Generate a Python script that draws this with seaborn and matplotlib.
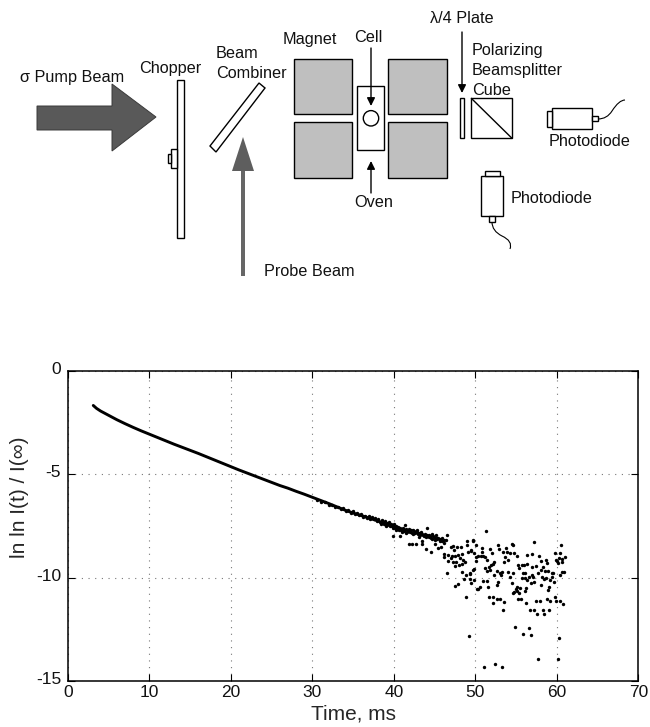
import matplotlib
matplotlib.use("Agg")
import matplotlib.pyplot as plt
from matplotlib.patches import Polygon, Rectangle, Circle
from matplotlib.path import Path
from matplotlib.patches import PathPatch
from matplotlib.transforms import ScaledTranslation
import pandas as pd
import seaborn as sns

# ---- chart data -------------------------------------------------------
curve_t = [3.1, 3.5, 4, 5, 6, 7, 8, 9, 10, 11, 12, 13, 14, 15, 16, 17, 18, 19, 20,
           21, 22, 23, 24, 25, 26, 27, 28, 29, 30, 31, 32, 33, 34, 35, 36, 37, 38, 39]
curve_v = [-1.68, -1.82, -1.95, -2.16, -2.37, -2.56, -2.74, -2.91, -3.07, -3.23, -3.39,
           -3.55, -3.70, -3.85, -4.00, -4.16, -4.32, -4.48, -4.64, -4.80, -4.95, -5.10,
           -5.25, -5.40, -5.55, -5.68, -5.83, -5.97, -6.12, -6.27, -6.42, -6.58,
           -6.74, -6.88, -7.00, -7.13, -7.26, -7.40]

band_a = [(30.6, -6.25), (31.0, -6.33), (31.5, -6.36), (32.0, -6.47), (32.4, -6.47), (32.8, -6.60),
          (33.2, -6.58), (33.5, -6.68), (33.8, -6.66), (34.1, -6.78), (34.4, -6.74), (34.7, -6.86),
          (35.0, -6.80), (35.2, -6.92), (35.5, -6.88), (35.7, -6.98), (36.0, -6.94), (36.2, -7.06),
          (36.5, -7.00), (36.7, -7.12), (36.9, -7.02), (37.1, -7.16), (37.3, -7.08), (37.5, -7.18),
          (37.7, -7.12), (37.9, -7.28), (38.1, -7.18), (38.3, -7.32), (38.5, -7.22), (38.7, -7.38),
          (38.9, -7.27), (39.1, -7.34), (39.2, -7.47), (39.4, -7.32), (39.6, -7.42), (39.8, -7.52),
          (39.9, -7.97), (40.0, -7.40)]

band_b = [(40.1, -7.62), (40.2, -7.50), (40.3, -7.70), (40.5, -7.56), (40.6, -7.72), (40.7, -7.97),
          (40.8, -7.62), (41.0, -7.80), (41.1, -7.58), (41.2, -7.70), (41.4, -7.48), (41.5, -7.84),
          (41.6, -7.72), (41.8, -8.40), (41.9, -7.66), (42.0, -7.78), (42.2, -8.39), (42.3, -7.72),
          (42.4, -7.90), (42.6, -7.80), (42.7, -8.37), (42.8, -7.68), (43.0, -7.90), (43.1, -8.02),
          (43.3, -7.82), (43.4, -8.21), (43.5, -8.40), (43.6, -7.95), (43.8, -7.88), (43.9, -8.63),
          (44.0, -8.05), (44.1, -7.61), (44.3, -7.96), (44.5, -8.10), (44.6, -8.77), (44.7, -7.88),
          (44.9, -8.05), (45.0, -8.39), (45.1, -8.18), (45.2, -7.92), (45.3, -8.08), (45.4, -8.55),
          (45.6, -8.25), (45.7, -8.12), (45.8, -8.50), (45.9, -8.22), (46.1, -8.31), (46.2, -8.16),
          (46.4, -8.18), (46.5, -7.95)]

band_c = [(40.05, -7.55), (40.25, -7.60), (40.45, -7.66), (40.65, -7.58), (40.85, -7.72), (41.05, -7.68),
          (41.25, -7.76), (41.45, -7.64), (41.65, -7.80), (41.85, -7.74), (42.05, -7.70), (42.25, -7.84),
          (42.45, -7.76), (42.65, -7.86), (42.85, -7.78), (43.05, -7.84), (43.25, -7.94), (43.45, -7.88),
          (43.65, -8.00), (43.85, -7.96), (44.05, -7.92), (44.25, -8.02), (44.45, -7.98), (44.65, -8.12),
          (44.85, -7.98), (45.05, -8.08), (45.25, -8.14), (45.45, -8.10), (45.65, -8.20), (45.85, -8.08),
          (38.6, -7.30), (38.8, -7.42), (39.0, -7.45), (39.3, -7.40), (39.5, -7.50), (39.7, -7.46),
          (39.05, -7.52), (39.85, -7.58), (39.95, -7.48), (38.4, -7.40)]

scatter_a = [(46.1, -8.85), (46.2, -9.00), (46.5, -9.76), (46.7, -8.90), (46.7, -9.18), (47.0, -8.50),
             (47.0, -9.06), (47.1, -8.98), (47.2, -8.47), (47.2, -9.23), (47.4, -8.66), (47.5, -8.98),
             (47.5, -9.44), (47.5, -10.40), (47.6, -9.23), (47.8, -8.50), (47.9, -8.90), (47.9, -10.30),
             (48.0, -9.39), (48.1, -9.06), (48.2, -8.50), (48.3, -8.85), (48.3, -9.34), (48.4, -9.73),
             (48.5, -9.15), (48.6, -10.06), (48.7, -9.23), (48.8, -10.94), (48.9, -9.87), (49.0, -8.24),
             (49.0, -8.42), (49.1, -8.74), (49.16, -12.84), (49.3, -9.82), (49.33, -9.80), (49.4, -10.08),
             (49.41, -8.70), (49.41, -10.25), (49.5, -8.66), (49.66, -9.63), (49.7, -8.19), (49.74, -8.22),
             (49.82, -8.80), (49.82, -9.59), (49.82, -10.12), (50.07, -8.43), (50.07, -8.99), (50.07, -9.20),
             (50.15, -10.55), (50.35, -8.96), (50.35, -10.54), (50.55, -10.44), (50.64, -8.96), (50.76, -8.75),
             (50.84, -8.59), (50.97, -8.96), (50.97, -10.17), (51.09, -14.32), (51.17, -8.99), (51.21, -9.55),
             (51.3, -7.75), (51.37, -9.15), (51.46, -9.67), (51.46, -10.17), (51.58, -10.44), (51.66, -10.95),
             (51.7, -9.50), (51.78, -8.62), (51.78, -9.63), (51.87, -9.39), (51.99, -8.80), (52.11, -9.36),
             (52.11, -11.24), (52.19, -10.95), (52.27, -9.23), (52.3, -9.88), (52.44, -14.18), (52.6, -9.67),
             (52.6, -11.02), (52.68, -10.36), (52.77, -8.43), (52.8, -10.23), (52.93, -8.62), (53.0, -9.76),
             (53.0, -11.05), (53.13, -9.88), (53.26, -9.75), (53.26, -14.32), (53.38, -11.57), (53.42, -8.78),
             (53.5, -9.23), (53.54, -11.16), (53.62, -8.99), (53.75, -8.59), (53.83, -8.78), (54.03, -9.15),
             (54.03, -9.71)]

scatter_b = [(54.24, -8.83), (54.24, -9.96), (54.44, -8.38), (54.44, -10.28), (54.56, -9.76), (54.65, -8.41),
             (54.65, -10.76), (54.77, -8.83), (54.77, -10.70), (54.89, -12.39), (54.97, -10.57), (55.06, -10.65),
             (55.1, -8.94), (55.14, -10.44), (55.18, -9.39), (55.26, -11.02), (55.38, -9.52), (55.38, -10.76),
             (55.46, -10.52), (55.55, -11.02), (55.67, -9.39), (55.67, -10.00), (55.79, -9.79), (55.79, -12.73),
             (55.96, -9.38), (56.08, -9.76), (56.08, -10.04), (56.08, -10.65), (56.16, -11.24), (56.2, -10.49),
             (56.36, -9.34), (56.36, -10.12), (56.4, -8.91), (56.61, -9.96), (56.61, -12.42), (56.69, -11.57),
             (56.77, -12.79), (56.82, -10.25), (56.9, -9.88), (56.98, -8.88), (56.98, -9.47), (57.1, -9.96),
             (57.14, -8.28), (57.18, -10.20), (57.22, -11.57), (57.4, -9.42), (57.43, -11.13), (57.59, -11.78),
             (57.7, -9.76), (57.71, -13.92), (57.76, -8.96), (57.92, -11.13), (58.0, -9.20), (58.0, -10.36),
             (58.04, -9.63), (58.12, -9.96), (58.25, -11.57), (58.33, -9.50), (58.41, -10.08), (58.41, -11.78),
             (58.53, -9.67), (58.66, -9.15), (58.66, -10.04), (58.74, -9.31), (58.74, -11.05), (58.86, -10.60),
             (58.94, -9.67), (59.02, -10.44), (59.07, -11.57), (59.15, -10.12), (59.15, -11.15), (59.35, -9.76),
             (59.43, -9.96), (59.56, -9.76), (59.64, -10.20), (59.72, -10.94), (59.8, -8.83), (59.88, -9.15),
             (59.88, -11.13), (60.05, -9.18), (60.09, -13.92), (60.17, -9.28), (60.29, -12.94), (60.37, -8.83),
             (60.37, -11.13), (60.45, -9.88), (60.5, -8.43), (60.58, -9.12), (60.66, -9.71), (60.7, -11.28),
             (60.95, -9.02), (60.9, -9.75), (60.6, -9.25), (60.3, -9.05)]

x_ticks = [0, 10, 20, 30, 40, 50, 60, 70]
y_ticks = [-15, -10, -5, 0]
x_label = "Time, ms"
y_label = "ln ln I(t) / I(\u221e)"

diagram_labels = [
    ("\u03c3 Pump Beam", 20, 82), ("Chopper", 139, 73), ("Beam", 216, 58), ("Combiner", 216, 78),
    ("Magnet", 283, 44), ("Cell", 354, 42), ("\u03bb/4 Plate", 430, 23), ("Polarizing", 472, 55),
    ("Beamsplitter", 472, 75), ("Cube", 472, 95), ("Photodiode", 549, 146), ("Oven", 354, 207),
    ("Photodiode", 511, 203), ("Probe Beam", 264, 276),
]

# ---- figure -----------------------------------------------------------
sns.set_theme(style="ticks")
plt.rcParams["font.family"] = ["Liberation Sans", "DejaVu Sans"]
plt.rcParams["axes.unicode_minus"] = False
W, H = 650, 727
fig = plt.figure(figsize=(W / 100, H / 100), dpi=100, facecolor="white")

# schematic, drawn in picture pixels
sk = fig.add_axes([0, 0, 1, 1], zorder=0)
sk.set_xlim(0, W)
sk.set_ylim(H, 0)
sk.axis("off")


def rect(x0, y0, x1, y1, fc="white", lw=1.0):
    sk.add_patch(Rectangle((x0, y0), x1 - x0, y1 - y0, fc=fc, ec="black", lw=lw))


def arrow(x, y0, y1):
    sk.annotate("", xy=(x, y1), xytext=(x, y0),
                arrowprops=dict(arrowstyle="-|>", color="black", lw=1.0, mutation_scale=12,
                                shrinkA=0, shrinkB=0))


def cable(pts):
    codes = [Path.MOVETO] + [Path.CURVE3] * (len(pts) - 1)
    sk.add_patch(PathPatch(Path(pts, codes), fc="none", ec="black", lw=0.8))


sk.add_patch(Polygon([(37, 106), (112, 106), (112, 84), (156, 117), (112, 151), (112, 130), (37, 130)],
                     fc="#595959", ec="#3a3a3a", lw=0.7))
rect(177, 79.5, 183.5, 238)
rect(171, 148.5, 177, 168)
rect(167.5, 154, 171, 162.5)
sk.add_patch(Polygon([(259, 83), (265, 88), (216, 152), (210, 146)], fc="white", ec="black", lw=1.0))
sk.add_patch(Rectangle((241, 170), 4.4, 105.5, fc="#666666", ec="none"))
sk.add_patch(Polygon([(243, 137), (232, 171), (254, 171)], fc="#5e5e5e", ec="none"))
for box in [(293.5, 58.7, 351.7, 114.3), (293.5, 122, 352.3, 177.7),
            (388.3, 58.7, 446.7, 114.3), (388.3, 122, 446.7, 177.7)]:
    rect(*box, fc="#bfbfbf")
rect(356.7, 86.3, 384.3, 150)
sk.add_patch(Circle((371, 118.3), 7.7, fc="white", ec="black", lw=1.0))
arrow(371, 48, 106)
arrow(371, 193, 161)
arrow(462, 32, 93)
rect(459.7, 98.3, 464.3, 138)
rect(471.3, 98.3, 511.7, 138)
sk.plot([471.3, 511.7], [98.3, 138], color="black", lw=1.0)
rect(552.3, 108, 592, 129)
rect(546.7, 110.7, 552.3, 126.7)
rect(592, 115.5, 598, 121)
cable([(598, 119), (607, 119), (612, 111), (619, 100), (625, 100)])
rect(481.3, 176, 502.7, 216)
rect(484.7, 171, 500, 176)
rect(489, 216, 495, 222)
cable([(492, 222), (492, 231), (502, 236), (513, 241), (510, 249)])
for text, x, y in diagram_labels:
    sk.text(x, y, text, fontsize=11.7, ha="left", va="baseline", color="#111111")

# measured decay
ax = fig.add_axes([68 / W, (H - 681) / H, (638.3 - 68) / W, 310.3 / H], zorder=1)
noisy = band_a + band_b + band_c + scatter_a + scatter_b
df = pd.DataFrame(noisy, columns=["t", "v"])
sns.lineplot(x=curve_t, y=curve_v, ax=ax, color="black", lw=2.1, estimator=None, sort=False)
sns.scatterplot(data=df, x="t", y="v", ax=ax, color="black", s=6, marker="o", linewidth=0)

ax.set_xlim(0, 70)
ax.set_ylim(-15, 0)
ax.set_xticks(x_ticks)
ax.set_yticks(y_ticks)
ax.set_xlabel(x_label, fontsize=15, labelpad=3)
ax.set_ylabel(y_label, fontsize=15)
ax.yaxis.set_label_coords(-39 / 570.3, 0.593)
ax.grid(True, linestyle=(0, (1, 5)), color="#777777", lw=0.8)
ax.tick_params(axis="both", direction="in", length=5, width=0.8, labelsize=12.5, color="black",
               top=True, right=True, pad=5, labelcolor="#111111")
ax.tick_params(axis="x", pad=3)
shift = ScaledTranslation(0, 3 / 100, fig.dpi_scale_trans)
for lab in ax.get_yticklabels():
    lab.set_transform(lab.get_transform() + shift)
for s in ax.spines.values():
    s.set_visible(True)
    s.set_color("black")
    s.set_linewidth(1.1)

fig.savefig("out.png", dpi=100, facecolor="white")
